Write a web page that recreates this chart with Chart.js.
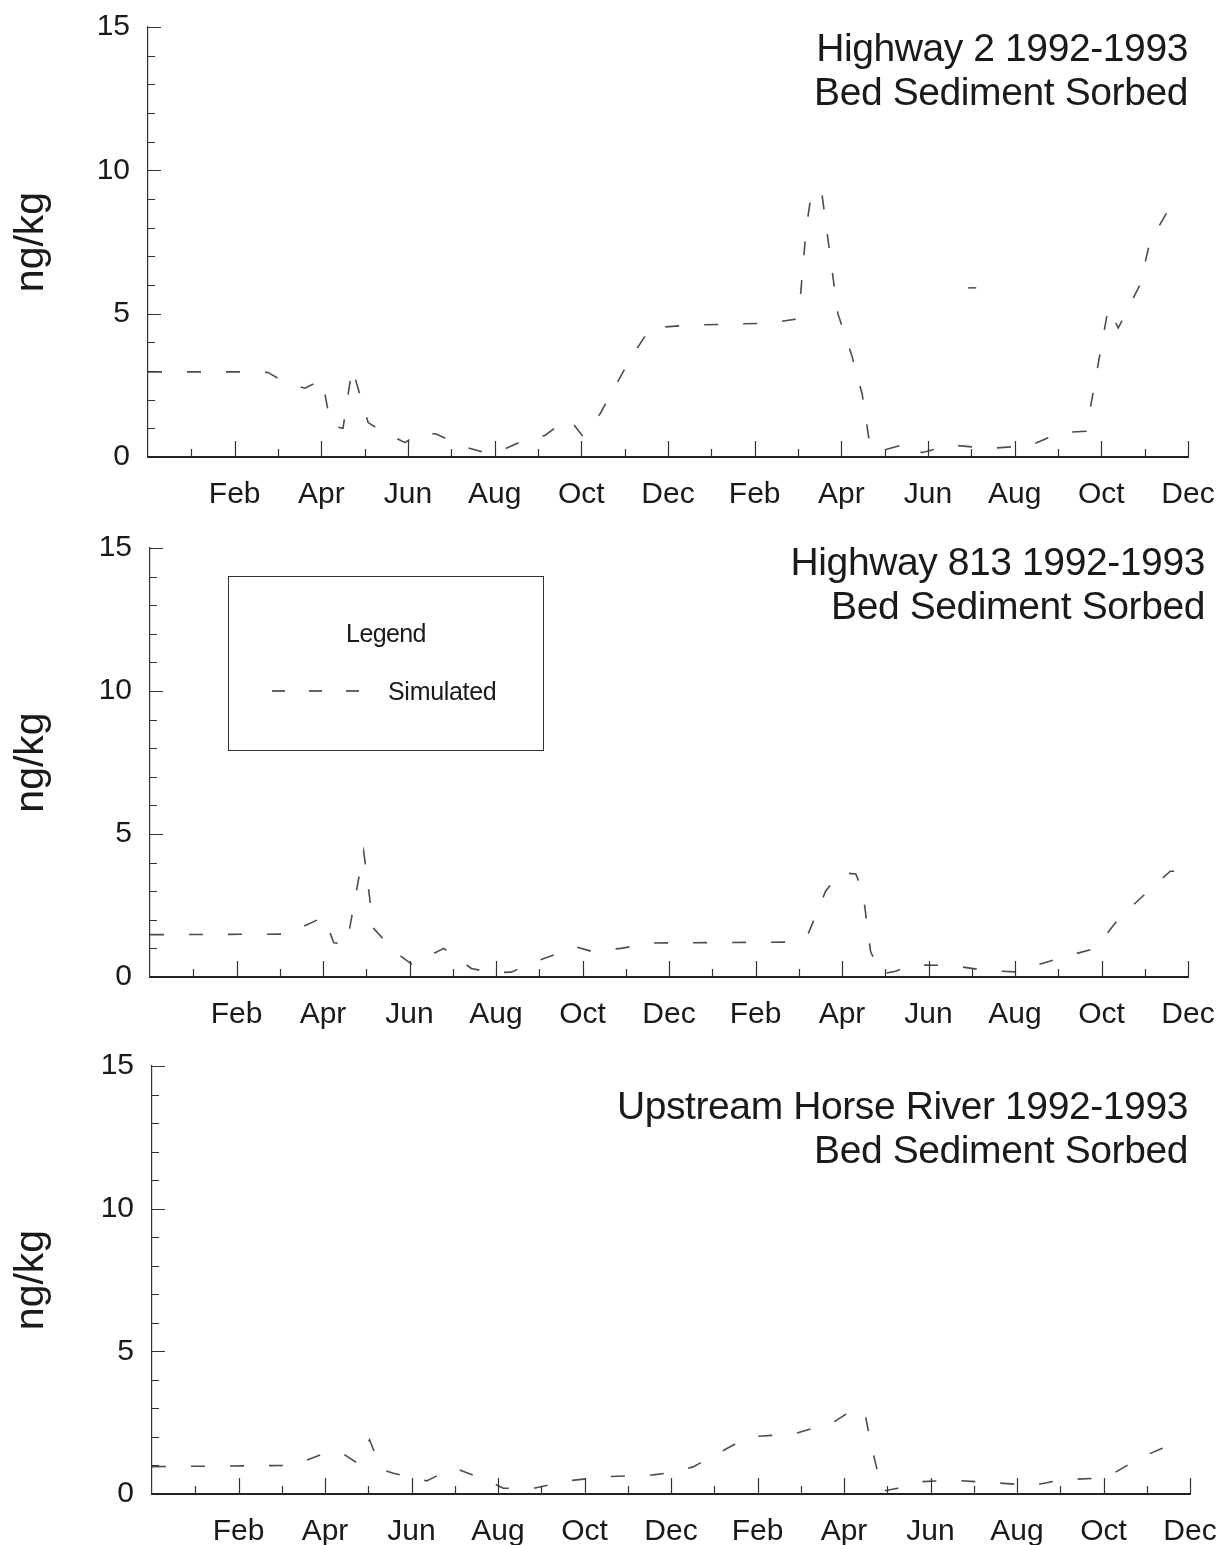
<!DOCTYPE html>
<html>
<head>
<meta charset="utf-8">
<script src="https://cdn.jsdelivr.net/npm/chart.js@4.4.1/dist/chart.umd.min.js"></script>
<style>
  body { margin: 0; background: #fff; width: 1224px; height: 1545px; position: relative; overflow: hidden;
         font-family: "Liberation Sans", Arial, sans-serif; color: #1a1a1a; }
  canvas { position: absolute; left: 0; }
  .title { position: absolute; text-align: right; font-size: 39px; line-height: 44px; letter-spacing: -0.4px; white-space: nowrap; }
  .legend { position: absolute; left: 228px; top: 576px; width: 316px; height: 175px; border: 1px solid #333; box-sizing: border-box; }
  .legend .head { position: absolute; left: 0; right: 0; top: 42px; text-align: center; font-size: 25px; letter-spacing: -0.6px; }
  .legend svg { position: absolute; left: 43px; top: 111px; }
  .legend .name { position: absolute; left: 159px; top: 100px; font-size: 25px; letter-spacing: -0.3px; }
</style>
</head>
<body>
<canvas id="c1" width="1224" height="520" style="top:0"></canvas>
<canvas id="c2" width="1224" height="520" style="top:520px"></canvas>
<canvas id="c3" width="1224" height="505" style="top:1040px"></canvas>

<div class="title" style="right:36px; top:26px">Highway 2 1992-1993<br>Bed Sediment Sorbed</div>
<div class="title" style="right:19px; top:540px">Highway 813 1992-1993<br>Bed Sediment Sorbed</div>
<div class="title" style="right:36px; top:1084px">Upstream Horse River 1992-1993<br>Bed Sediment Sorbed</div>

<div class="legend">
  <div class="head">Legend</div>
  <svg width="92" height="6"><line x1="0" y1="3" x2="92" y2="3" stroke="#333" stroke-width="1.6" stroke-dasharray="13 24"/></svg>
  <div class="name">Simulated</div>
</div>

<script>
// x values are months since 1 Jan 1992 (24 = end of Dec 1993)
var monthNames = ['Feb', 'Apr', 'Jun', 'Aug', 'Oct', 'Dec'];

// Highway 2
var hwy2Month = [0, 2.35, 2.77, 3.16, 3.62, 4.02, 4.22, 4.50, 4.71, 5.08, 5.35, 5.93, 6.28, 6.65, 7.25, 7.85,
  8.12, 8.70, 9.16, 9.55, 9.74, 10.02, 10.43, 11.12, 11.59, 12.51, 14.35, 14.93, 15.05, 15.19, 15.32, 15.55,
  15.92, 16.25, 16.48, 16.66, 16.89, 17.59, 17.86, 18.51, 19.43, 20.36, 21.05, 21.65, 22.16, 22.39, 22.89,
  23.12, 23.54];
var hwy2Value = [2.97, 2.97, 2.95, 2.6, 2.4, 2.7, 1.1, 1.0, 3.1, 1.2, 0.95, 0.5, 0.85, 0.8, 0.38, 0.12,
  0.2, 0.6, 0.75, 1.2, 1.3, 0.75, 1.5, 3.4, 4.5, 4.6, 4.67, 4.8, 5.5, 8.0, 9.3, 9.2,
  5.0, 3.5, 2.2, 0.4, 0.2, 0.5, 0.15, 0.42, 0.3, 0.4, 0.85, 0.9, 5.2, 4.5, 6.0,
  7.5, 8.6];
var hwy2ExtraMonth = [19.02];
var hwy2ExtraValue = [5.9];

// Highway 813
var hwy813Month = [0, 3.16, 4.02, 4.25, 4.55, 4.94, 5.17, 5.47, 5.82, 6.05, 6.28, 6.79, 7.43, 7.89, 8.35,
  8.93, 9.85, 10.20, 10.89, 11.59, 14.82, 15.23, 15.62, 15.97, 16.32, 16.48, 16.66, 16.89, 17.24, 17.59,
  18.51, 19.32, 20.01, 20.36, 21.12, 21.86, 22.43, 23.08, 23.59, 23.93];
var hwy813Value = [1.48, 1.5, 2.1, 1.2, 1.15, 4.4, 1.7, 1.2, 0.7, 0.45, 0.6, 1.0, 0.3, 0.15, 0.17,
  0.55, 1.05, 0.9, 1.0, 1.19, 1.22, 1.55, 3.0, 3.65, 3.6, 3.0, 0.9, 0.1, 0.2, 0.42,
  0.41, 0.23, 0.18, 0.35, 0.7, 1.0, 2.1, 3.0, 3.7, 3.7];

// Upstream Horse River
var horseMonth = [0, 3.23, 4.08, 4.43, 4.73, 5.03, 5.31, 5.58, 6.35, 6.97, 7.78, 8.12, 8.82, 9.62, 10.43,
  11.59, 12.00, 12.51, 13.25, 13.78, 14.82, 15.74, 16.20, 16.48, 16.66, 16.89, 17.24, 17.63, 18.51, 19.43,
  20.36, 21.05, 21.86, 22.20, 22.89, 23.36, 23.86];
var horseValue = [0.96, 1.0, 1.47, 1.4, 1.1, 1.9, 0.85, 0.73, 0.46, 0.92, 0.46, 0.2, 0.2, 0.46, 0.6,
  0.67, 0.75, 0.95, 1.56, 2.0, 2.1, 2.5, 2.95, 2.85, 1.5, 0.1, 0.2, 0.42, 0.48, 0.4,
  0.3, 0.5, 0.55, 0.7, 1.3, 1.6, 1.95];

var yTicks = [0, 5, 10, 15];

function toPoints(xs, ys) {
  return xs.map(function (x, i) { return { x: x, y: ys[i] }; });
}

// inward tick marks: every month on x (tall on labelled months), every unit on y
var innerTicks = {
  id: 'innerTicks',
  afterDraw: function (chart) {
    var ctx = chart.ctx, xs = chart.scales.x, ys = chart.scales.y;
    var y0 = ys.getPixelForValue(0), x0 = xs.getPixelForValue(0);
    ctx.save();
    ctx.strokeStyle = '#333';
    ctx.lineWidth = 1.2;
    ctx.beginPath();
    for (var m = 1; m <= 24; m++) {
      var px = Math.round(xs.getPixelForValue(m)) + 0.5;
      ctx.moveTo(px, y0);
      ctx.lineTo(px, y0 - (m % 2 === 0 ? 16 : 8));
    }
    for (var v = 1; v <= 15; v++) {
      var py = Math.round(ys.getPixelForValue(v)) + 0.5;
      ctx.moveTo(x0, py);
      ctx.lineTo(x0 + (v % 5 === 0 ? 13 : 7), py);
    }
    ctx.stroke();
    ctx.restore();
  }
};

function makePanel(id, pts, extra, yWidth, xHeight, padTop, padRight) {
  var datasets = [{
    label: 'Simulated',
    data: pts,
    borderColor: '#4d4d4d',
    borderWidth: 1.6,
    borderDash: [14, 25],
    pointRadius: 0,
    tension: 0,
    fill: false
  }];
  if (extra) {
    datasets.push({
      label: 'point',
      data: extra,
      showLine: false,
      pointStyle: 'line',
      pointRadius: 4,
      borderColor: '#555',
      borderWidth: 1.6
    });
  }
  return new Chart(document.getElementById(id), {
    type: 'line',
    data: { datasets: datasets },
    options: {
      responsive: false,
      animation: false,
      layout: { padding: { top: padTop, right: padRight, left: 0, bottom: 0 } },
      plugins: { legend: { display: false }, tooltip: { enabled: false } },
      scales: {
        x: {
          type: 'linear',
          min: 0,
          max: 24,
          afterFit: function (s) { s.height = xHeight; s.paddingLeft = 0; s.paddingRight = 0; },
          grid: { display: false, drawTicks: false },
          border: { display: true, color: '#222', width: 2 },
          ticks: {
            stepSize: 2,
            autoSkip: false,
            maxRotation: 0,
            padding: 20,
            color: '#1a1a1a',
            font: { family: '"Liberation Sans", Arial, sans-serif', size: 30 },
            callback: function (v) {
              if (v === 0) return '';
              return monthNames[(v / 2 - 1) % 6];
            }
          }
        },
        y: {
          min: 0,
          max: 15,
          afterFit: function (s) { s.width = yWidth; s.paddingTop = 0; s.paddingBottom = 0; },
          afterBuildTicks: function (s) { s.ticks = yTicks.map(function (v) { return { value: v }; }); },
          grid: { display: false, drawTicks: false },
          border: { display: true, color: '#333', width: 1.2 },
          title: {
            display: true,
            text: 'ng/kg',
            color: '#1a1a1a',
            font: { family: '"Liberation Sans", Arial, sans-serif', size: 41 },
            padding: { top: 7, bottom: 0 }
          },
          ticks: {
            padding: 18,
            color: '#1a1a1a',
            font: { family: '"Liberation Sans", Arial, sans-serif', size: 30 }
          }
        }
      }
    },
    plugins: [innerTicks]
  });
}

makePanel('c1', toPoints(hwy2Month, hwy2Value), toPoints(hwy2ExtraMonth, hwy2ExtraValue), 148, 63, 27, 36);
makePanel('c2', toPoints(hwy813Month, hwy813Value), null, 150, 63, 28, 36);
makePanel('c3', toPoints(horseMonth, horseValue), null, 152, 51, 26, 34);
</script>
</body>
</html>
